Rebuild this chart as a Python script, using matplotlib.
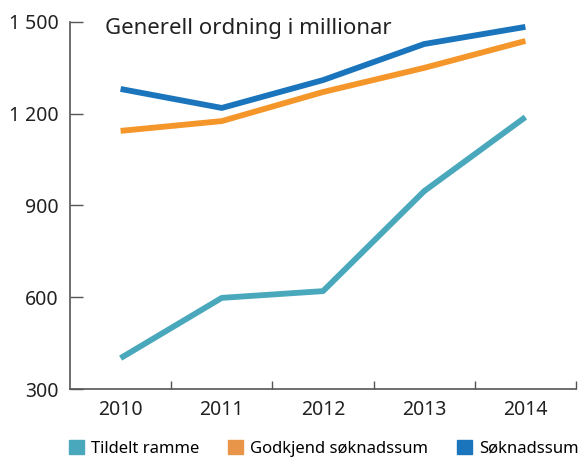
import matplotlib
matplotlib.use('Agg')
import matplotlib.pyplot as plt
from matplotlib.patches import Patch

years = ['2010', '2011', '2012', '2013', '2014']
tildelt = [401, 598, 620, 947, 1189]
godkjend = [1144, 1176, 1271, 1350, 1438]
soknad = [1281, 1219, 1310, 1428, 1484]

c_tildelt = '#4aa8bc'
c_godkjend = '#f5962a'
c_soknad = '#1a75bc'

plt.rcParams['font.family'] = ['Noto Sans', 'DejaVu Sans']

fig = plt.figure(figsize=(5.81, 4.61), dpi=100)
ax = fig.add_axes([70 / 581, 1 - 389 / 461, 506 / 581, 367 / 461])

x = list(range(len(years)))
ax.plot(x, tildelt, color=c_tildelt, lw=4.2, solid_capstyle='butt')
ax.plot(x, godkjend, color=c_godkjend, lw=4.2, solid_capstyle='butt')
ax.plot(x, soknad, color=c_soknad, lw=4.2, solid_capstyle='butt')

ax.set_xlim(-0.5, 4.5)
ax.set_ylim(300, 1500)
ax.set_yticks([300, 600, 900, 1200, 1500])
ax.set_yticklabels(['300', '600', '900', '1 200', '1 500'])
ax.set_xticks(x)
ax.set_xticklabels(years)
ax.set_xticks([0.5, 1.5, 2.5, 3.5, 4.5], minor=True)

ax.tick_params(axis='x', which='major', length=0, pad=8, labelsize=14, colors='#222222')
ax.tick_params(axis='x', which='minor', direction='in', length=6, width=1, color='#555555')
ax.tick_params(axis='y', direction='in', length=9, width=1, color='#555555',
               pad=8, labelsize=14, labelcolor='#222222')

for s in ['top', 'right']:
    ax.spines[s].set_visible(False)
for s in ['left', 'bottom']:
    ax.spines[s].set_color('#555555')
    ax.spines[s].set_linewidth(1.2)

ax.text(0.07, 1.01, 'Generell ordning i millionar', transform=ax.transAxes,
        fontsize=16, color='#222222', va='top', ha='left')

handles = [Patch(color=c_tildelt), Patch(color='#e8954a'), Patch(color=c_soknad)]
labels = ['Tildelt ramme', 'Godkjend søknadssum', 'Søknadssum']
fig.legend(handles, labels, loc='lower left', bbox_to_anchor=(0.102, -0.012), ncol=3,
           frameon=False, fontsize=12, handlelength=0.9, handleheight=0.9,
           handletextpad=0.4, columnspacing=1.75, borderaxespad=0.2)

fig.savefig('out.png', dpi=100)
